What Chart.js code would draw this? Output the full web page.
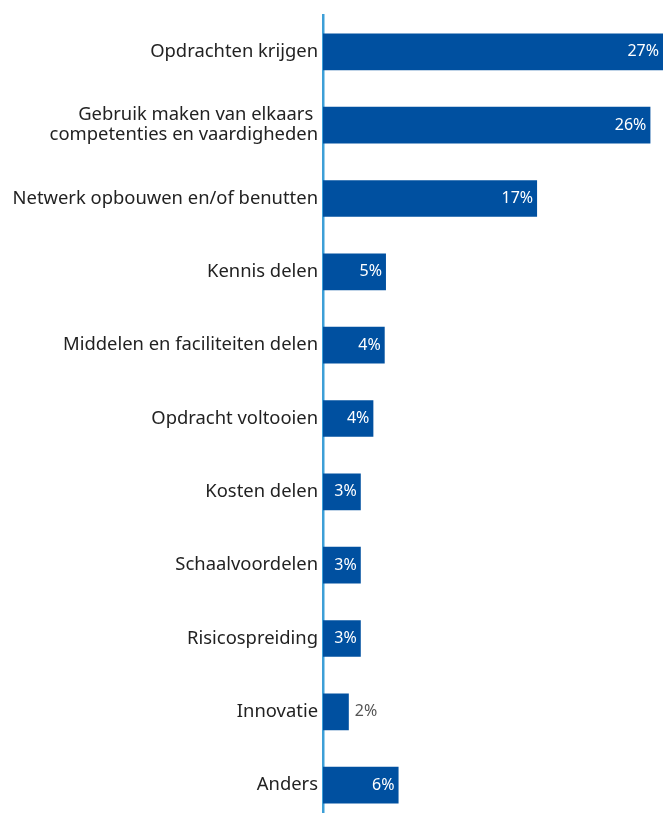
<!DOCTYPE html>
<html>
<head>
<meta charset="utf-8">
<script src="https://cdn.jsdelivr.net/npm/chart.js@4/dist/chart.umd.min.js"></script>
<style>
  html, body { margin: 0; padding: 0; background: #fff; overflow: hidden; }
  #wrap { position: relative; width: 670px; height: 837px; }
</style>
</head>
<body>
<div id="wrap"><canvas id="motivesChart"></canvas></div>
<script>
// categories and values (percentages)
const categories = [
    'Opdrachten krijgen',
    ['Gebruik maken van elkaars ', 'competenties en vaardigheden'],
    'Netwerk opbouwen en/of benutten',
    'Kennis delen',
    'Middelen en faciliteiten delen',
    'Opdracht voltooien',
    'Kosten delen',
    'Schaalvoordelen',
    'Risicospreiding',
    'Innovatie',
    'Anders'
];
const values = [27, 26, 17, 5, 4.9, 4, 3, 3, 3, 2.05, 6];
const valueLabels = ['27%', '26%', '17%', '5%', '4%', '4%', '3%', '3%', '3%', '2%', '6%'];

const barColor = '#0050a0';
const axisColor = '#3d9fd7';

// labels at the end of the bars: inside (white) or after the bar (grey)
const barLabels = {
    id: 'barLabels',
    afterDatasetsDraw(chart) {
        const ctx = chart.ctx;
        const meta = chart.getDatasetMeta(0);
        ctx.save();
        ctx.font = '16px "Noto Sans", sans-serif';
        ctx.textBaseline = 'middle';
        meta.data.forEach((bar, i) => {
            const text = valueLabels[i];
            const w = ctx.measureText(text).width;
            const barW = bar.x - bar.base;
            if (barW > w + 8) {
                ctx.fillStyle = '#ffffff';
                ctx.textAlign = 'right';
                ctx.fillText(text, bar.x - 4, bar.y);
            } else {
                ctx.fillStyle = '#555555';
                ctx.textAlign = 'left';
                ctx.fillText(text, bar.x + 6, bar.y);
            }
        });
        ctx.restore();
    }
};

new Chart(document.getElementById('motivesChart'), {
    type: 'bar',
    data: {
        labels: categories,
        datasets: [{
            data: values,
            backgroundColor: barColor,
            borderWidth: 0,
            barPercentage: 0.5,
            categoryPercentage: 1.0
        }]
    },
    options: {
        indexAxis: 'y',
        responsive: true,
        maintainAspectRatio: false,
        animation: false,
        layout: { padding: { top: 13, right: 7, left: 0, bottom: 0 } },
        plugins: {
            legend: { display: false },
            tooltip: { enabled: false }
        },
        scales: {
            x: {
                display: false,
                min: 0,
                max: Math.max(...values)
            },
            y: {
                afterFit(scale) { scale.width = 323; },
                grid: { display: false, drawTicks: false },
                border: { display: true, color: axisColor, width: 2.5 },
                ticks: {
                    color: '#222222',
                    padding: 5,
                    font: { family: '"Noto Sans", sans-serif', size: 18.4, lineHeight: 1.1 }
                }
            }
        }
    },
    plugins: [barLabels]
});
</script>
</body>
</html>
